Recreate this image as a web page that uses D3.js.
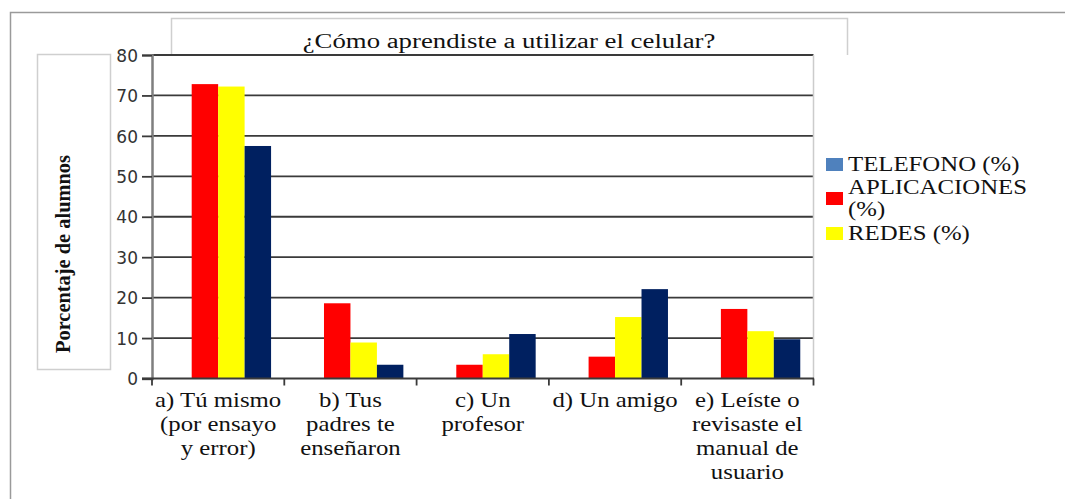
<!DOCTYPE html>
<html>
<head>
<meta charset="utf-8">
<script src="https://cdn.jsdelivr.net/npm/d3@7"></script>
<style>
  body { margin: 0; background: #fff; }
  svg { display: block; }
</style>
</head>
<body>
<div id="chart"></div>
<script>
// categories (each label split in lines as in the original)
const categories = ["a", "b", "c", "d", "e"];
const categoryLabels = [
    ["a) Tú mismo", "(por ensayo", "y error)"],
    ["b) Tus", "padres te", "enseñaron"],
    ["c) Un", "profesor"],
    ["d) Un amigo"],
    ["e) Leíste o", "revisaste el", "manual de", "usuario"]
];

// series (TELEFONO has no visible bars; the navy series is not in the legend)
const seriesNames = ["TELEFONO (%)", "APLICACIONES (%)", "REDES (%)", "SERIE 4"];
const seriesColors = ["#4f81bd", "#ff0000", "#ffff00", "#002060"];
const telefono = [null, null, null, null, null];
const aplicaciones = [72.8, 18.6, 3.4, 5.4, 17.2];
const redes = [72.2, 8.9, 6.0, 15.2, 11.7];
const serie4 = [57.5, 3.4, 11.0, 22.1, 9.7];
const seriesValues = [telefono, aplicaciones, redes, serie4];

const legendItems = [0, 1, 2];
const yTicks = [0, 10, 20, 30, 40, 50, 60, 70, 80];

const width = 1065, height = 499;
const stretch = 1.24;   // the picture is wider than the glyphs' natural shape

const svg = d3.select("#chart").append("svg")
    .attr("width", width)
    .attr("height", height);

// outer frame (only top and left edge visible)
svg.append("path")
    .attr("d", "M10.5,499 V12.5 H1065")
    .attr("fill", "none")
    .attr("stroke", "#9a9a9a")
    .attr("stroke-width", 1.5);

// title box
svg.append("path")
    .attr("d", "M171.5,55 V18.5 H847.5 V55")
    .attr("fill", "none")
    .attr("stroke", "#cfcfcf")
    .attr("stroke-width", 1.5);

// stretched serif text helper
function stretchedText(parent, x, y, str, size, anchor) {
    return parent.append("g")
        .attr("transform", `translate(${x},${y}) scale(${stretch},1)`)
        .append("text")
        .attr("text-anchor", anchor || "middle")
        .attr("font-family", "'Liberation Serif', 'Times New Roman', serif")
        .attr("font-size", size)
        .attr("fill", "#111")
        .text(str);
}

stretchedText(svg, 509, 48, "¿Cómo aprendiste a utilizar el celular?", 21.6);

// y label box
svg.append("rect")
    .attr("x", 37.5).attr("y", 54.5)
    .attr("width", 73).attr("height", 315)
    .attr("fill", "none")
    .attr("stroke", "#cfcfcf")
    .attr("stroke-width", 1.5);

svg.append("text")
    .attr("transform", "translate(70,254) rotate(-90)")
    .attr("text-anchor", "middle")
    .attr("font-family", "'Liberation Serif', 'Times New Roman', serif")
    .attr("font-weight", "bold")
    .attr("font-size", 21)
    .attr("textLength", 198)
    .attr("lengthAdjust", "spacingAndGlyphs")
    .attr("fill", "#111")
    .text("Porcentaje de alumnos");

// scales
const x0 = d3.scaleBand()
    .domain(categories)
    .range([152, 813.5])
    .paddingInner(0)
    .paddingOuter(0);

const x1 = d3.scaleBand()
    .domain(d3.range(seriesNames.length))
    .range([0, x0.bandwidth()])
    .paddingInner(0)
    .paddingOuter(0.5);

const y = d3.scaleLinear()
    .domain([0, 80])
    .range([378.5, 55]);

// gridlines
svg.append("g")
    .selectAll("line")
    .data(yTicks.filter(d => d > 0))
    .enter().append("line")
    .attr("x1", 152).attr("x2", 813.5)
    .attr("y1", d => y(d)).attr("y2", d => y(d))
    .attr("stroke", "#3a3a3a")
    .attr("stroke-width", 1.8);

// right plot border
svg.append("line")
    .attr("x1", 813.5).attr("x2", 813.5)
    .attr("y1", 55).attr("y2", 378.5)
    .attr("stroke", "#cccccc")
    .attr("stroke-width", 1.5);

// bars
const groups = svg.append("g")
    .selectAll("g")
    .data(categories)
    .enter().append("g")
    .attr("transform", d => `translate(${x0(d)},0)`);

groups.selectAll("rect")
    .data((d, i) => seriesValues.map((s, k) => ({ k: k, v: s[i] })).filter(e => e.v != null))
    .enter().append("rect")
    .attr("x", d => x1(d.k))
    .attr("width", x1.bandwidth())
    .attr("y", d => y(d.v))
    .attr("height", d => y(0) - y(d.v))
    .attr("fill", d => seriesColors[d.k]);

// y axis
const yAxis = svg.append("g")
    .attr("transform", "translate(152,0)")
    .call(d3.axisLeft(y).tickValues(yTicks).tickSize(10).tickPadding(4));
yAxis.select(".domain").attr("stroke", "#7f7f7f").attr("stroke-width", 2.5);
yAxis.selectAll(".tick line").attr("stroke", "#3a3a3a").attr("stroke-width", 1.8);
yAxis.selectAll(".tick text")
    .attr("font-family", "'DejaVu Sans', Verdana, sans-serif")
    .attr("font-size", 17)
    .attr("fill", "#333")
    .attr("dy", "0.36em");

// x axis
const xAxis = svg.append("g")
    .attr("transform", "translate(0,378.5)");
xAxis.append("line")
    .attr("x1", 142).attr("x2", 814)
    .attr("stroke", "#3a3a3a")
    .attr("stroke-width", 1.8);
xAxis.selectAll(".cat-tick")
    .data(categories.map(c => x0(c)).concat([x0.range()[1]]))
    .enter().append("line")
    .attr("class", "cat-tick")
    .attr("x1", d => d).attr("x2", d => d)
    .attr("y1", 0).attr("y2", 7)
    .attr("stroke", "#3a3a3a")
    .attr("stroke-width", 1.8);

categories.forEach((c, i) => {
    const cx = x0(c) + x0.bandwidth() / 2;
    categoryLabels[i].forEach((line, j) => {
        stretchedText(svg, cx, 407 + j * 24, line, 20);
    });
});

// legend
const legend = svg.append("g");
const legendRows = [
    { k: 0, lines: ["TELEFONO (%)"], box: 158, base: [171] },
    { k: 1, lines: ["APLICACIONES", "(%)"], box: 192, base: [194, 216] },
    { k: 2, lines: ["REDES (%)"], box: 227, base: [240] }
];
legendRows.filter(r => legendItems.includes(r.k)).forEach(r => {
    legend.append("rect")
        .attr("x", 826).attr("y", r.box)
        .attr("width", 17).attr("height", 13)
        .attr("fill", seriesColors[r.k]);
    r.lines.forEach((line, j) => {
        stretchedText(legend, 848, r.base[j], line, 20, "start");
    });
});
</script>
</body>
</html>
